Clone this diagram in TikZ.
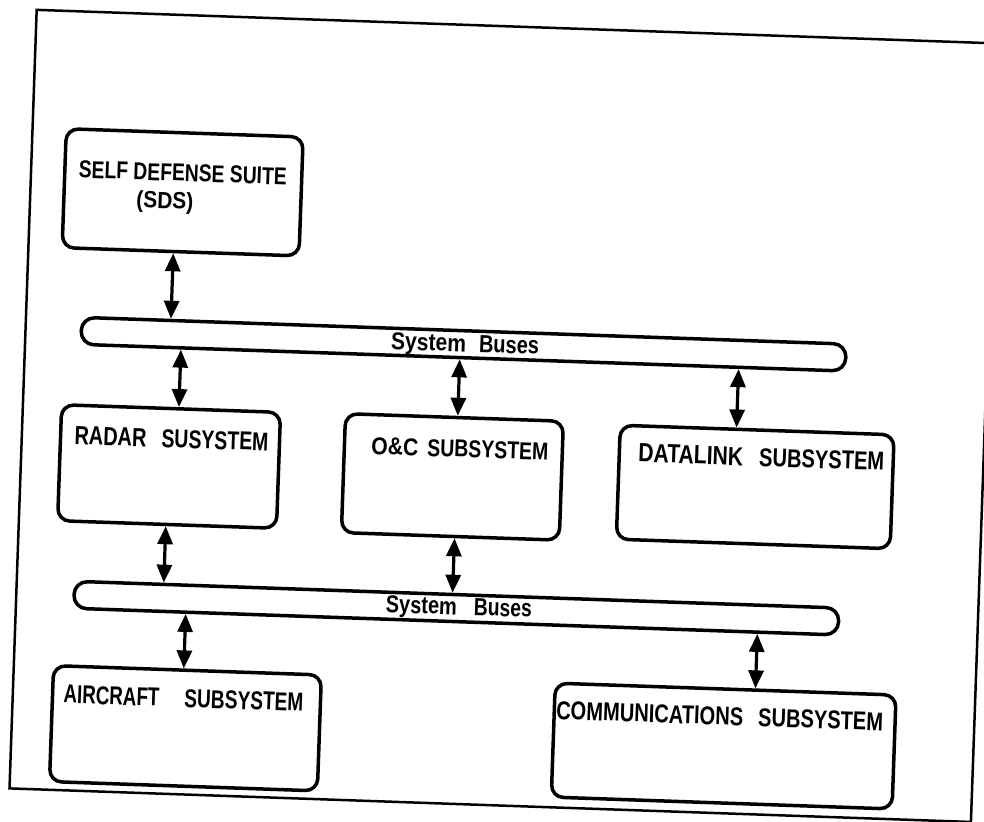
\documentclass[tikz,border=0pt]{standalone}
\usepackage{fontspec}
\setmainfont{Liberation Sans}
\usepackage{graphicx}
\usetikzlibrary{arrows.meta,calc}
\setlength{\unitlength}{1pt}
\newcommand{\rsz}[3]{\resizebox{#1pt}{#2pt}{#3}}
\begin{document}
\begin{tikzpicture}[x=1pt,y=-1pt,
  box/.style={draw, line width=3.5pt, rounded corners=12pt, inner sep=0pt, anchor=north west, font=\bfseries},
  bus/.style={draw, line width=3.5pt, rounded corners=13pt, inner sep=0pt, anchor=north west, font=\bfseries},
  frame/.style={line width=2.5pt},
  biarr/.style={line width=3.2pt, arrows={Triangle[length=18pt,width=15pt]-Triangle[length=18pt,width=15pt]}}]
\useasboundingbox (0,0) rectangle (984,821);
\clip (0,0) rectangle (984,821);
\begin{scope}[rotate around={-2:(492,410)}, transform shape]
\draw[frame] (23,26) rectangle (985,805);

\node[box] (sds) at (55,142) {\begin{picture}(237,119)
  \put(14,70.5){\rsz{208}{17}{SELF DEFENSE SUITE}}
  \put(72.5,42.5){\rsz{57}{17}{(SDS)}}
\end{picture}};

\node[bus] (bus1) at (77,330) {\begin{picture}(765,27)
  \put(310,6){\rsz{75}{17}{System}}
  \put(398,6){\rsz{60}{17}{Buses}}
\end{picture}};

\node[box] (radar) at (60,418) {\begin{picture}(219,116)
  \put(14,77){\rsz{72}{18}{RADAR}}
  \put(101,77){\rsz{107}{18}{SUSYSTEM}}
\end{picture}};

\node[box] (oc) at (344,417) {\begin{picture}(218,119)
  \put(27,79.5){\rsz{47}{17}{O\&C}}
  \put(83,79.5){\rsz{121}{17}{SUBSYSTEM}}
\end{picture}};

\node[box] (datalink) at (619,419) {\begin{picture}(274,114)
  \put(19,78){\rsz{105}{18}{DATALINK}}
  \put(140,78){\rsz{125}{18}{SUBSYSTEM}}
\end{picture}};

\node[bus] (bus2) at (79,594) {\begin{picture}(765,27)
  \put(312,7){\rsz{71}{17}{System}}
  \put(400,7){\rsz{58}{17}{Buses}}
\end{picture}};

\node[box] (aircraft) at (61,679) {\begin{picture}(268,116)
  \put(11,79){\rsz{96}{18}{AIRCRAFT}}
  \put(132,79){\rsz{119}{18}{SUBSYSTEM}}
\end{picture}};

\node[box] (comm) at (563,679) {\begin{picture}(341,114)
  \put(2,78){\rsz{187}{18}{COMMUNICATIONS}}
  \put(204,78){\rsz{125}{18}{SUBSYSTEM}}
\end{picture}};

\draw[biarr] ($(sds.south west)!(168,0)!(sds.south east)$) -- ($(bus1.north west)!(168,0)!(bus1.north east)$);
\draw[biarr] ($(bus1.south west)!(179,0)!(bus1.south east)$) -- ($(radar.north west)!(179,0)!(radar.north east)$);
\draw[biarr] ($(bus1.south west)!(458,0)!(bus1.south east)$) -- ($(oc.north west)!(458,0)!(oc.north east)$);
\draw[biarr] ($(bus1.south west)!(737,0)!(bus1.south east)$) -- ($(datalink.north west)!(737,0)!(datalink.north east)$);
\draw[biarr] ($(radar.south west)!(170,0)!(radar.south east)$) -- ($(bus2.north west)!(170,0)!(bus2.north east)$);
\draw[biarr] ($(oc.south west)!(459,0)!(oc.south east)$) -- ($(bus2.north west)!(459,0)!(bus2.north east)$);
\draw[biarr] ($(bus2.south west)!(193,0)!(bus2.south east)$) -- ($(aircraft.north west)!(193,0)!(aircraft.north east)$);
\draw[biarr] ($(bus2.south west)!(765,0)!(bus2.south east)$) -- ($(comm.north west)!(765,0)!(comm.north east)$);
\end{scope}
\end{tikzpicture}
\end{document}
